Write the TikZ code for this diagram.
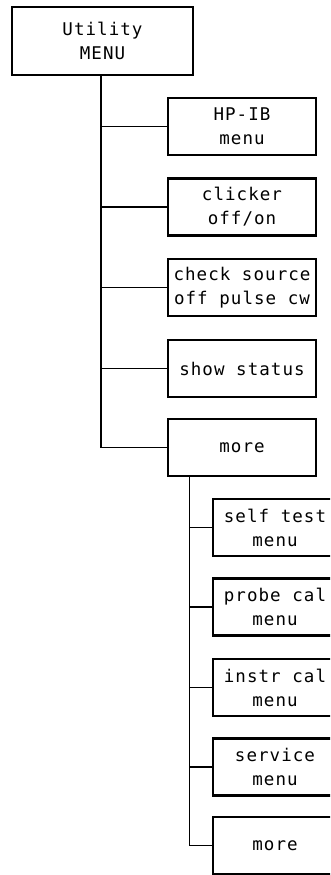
\documentclass[tikz,border=0pt]{standalone}
\usepackage{fontspec}
\newfontfamily\plotfont[LetterSpace=6]{DejaVu Sans Mono}
\usepackage{tikz}
\usetikzlibrary{positioning, calc}

\begin{document}
\begin{tikzpicture}[
        x=1pt, y=-1pt,
        menubox/.style={draw, line width=2.6pt, align=center, inner sep=0pt,
            font=\plotfont\fontsize{17.5}{24}\selectfont},
        top/.style={menubox, minimum width=181pt, minimum height=68pt},
        key/.style={menubox, minimum width=148pt, minimum height=57pt},
        subkey/.style={menubox, minimum width=124pt, minimum height=57pt},
        wire/.style={line width=1.2pt}
    ]
        \useasboundingbox (0,0) rectangle (330,875);
        \clip (0,0) rectangle (330,875);

        % Top menu
        \node[top] (util) at (102.5, 41) {Utility\\MENU};

        % First level softkeys
        \node[key] (hpib)   at (242, 126.5) {HP-IB\\menu};
        \node[key] (click)  at (242, 207)   {clicker\\off/on};
        \node[key] (check)  at (242, 287.5) {check source\\off pulse cw};
        \node[key] (status) at (242, 368.5) {show status};
        \node[key] (more)   at (242, 447.5) {more};

        % Second level softkeys
        \node[subkey] (self)  at (275, 527.5) {self test\\menu};
        \node[subkey] (probe) at (275, 607)   {probe cal\\menu};
        \node[subkey] (instr) at (275, 687.5) {instr cal\\menu};
        \node[subkey] (serv)  at (275, 767)   {service\\menu};
        \node[subkey] (more2) at (275, 845.5) {more};

        % Branches
        \coordinate (trunk) at ([xshift=-1.5pt]util.south);
        \foreach \k in {hpib, click, check, status, more} {
            \draw[wire] (trunk) |- (\k.west);
        }
        \coordinate (trunk2) at ([xshift=23pt]more.south west);
        \foreach \k in {self, probe, instr, serv, more2} {
            \draw[wire] (trunk2) |- (\k.west);
        }
    \end{tikzpicture}
\end{document}
